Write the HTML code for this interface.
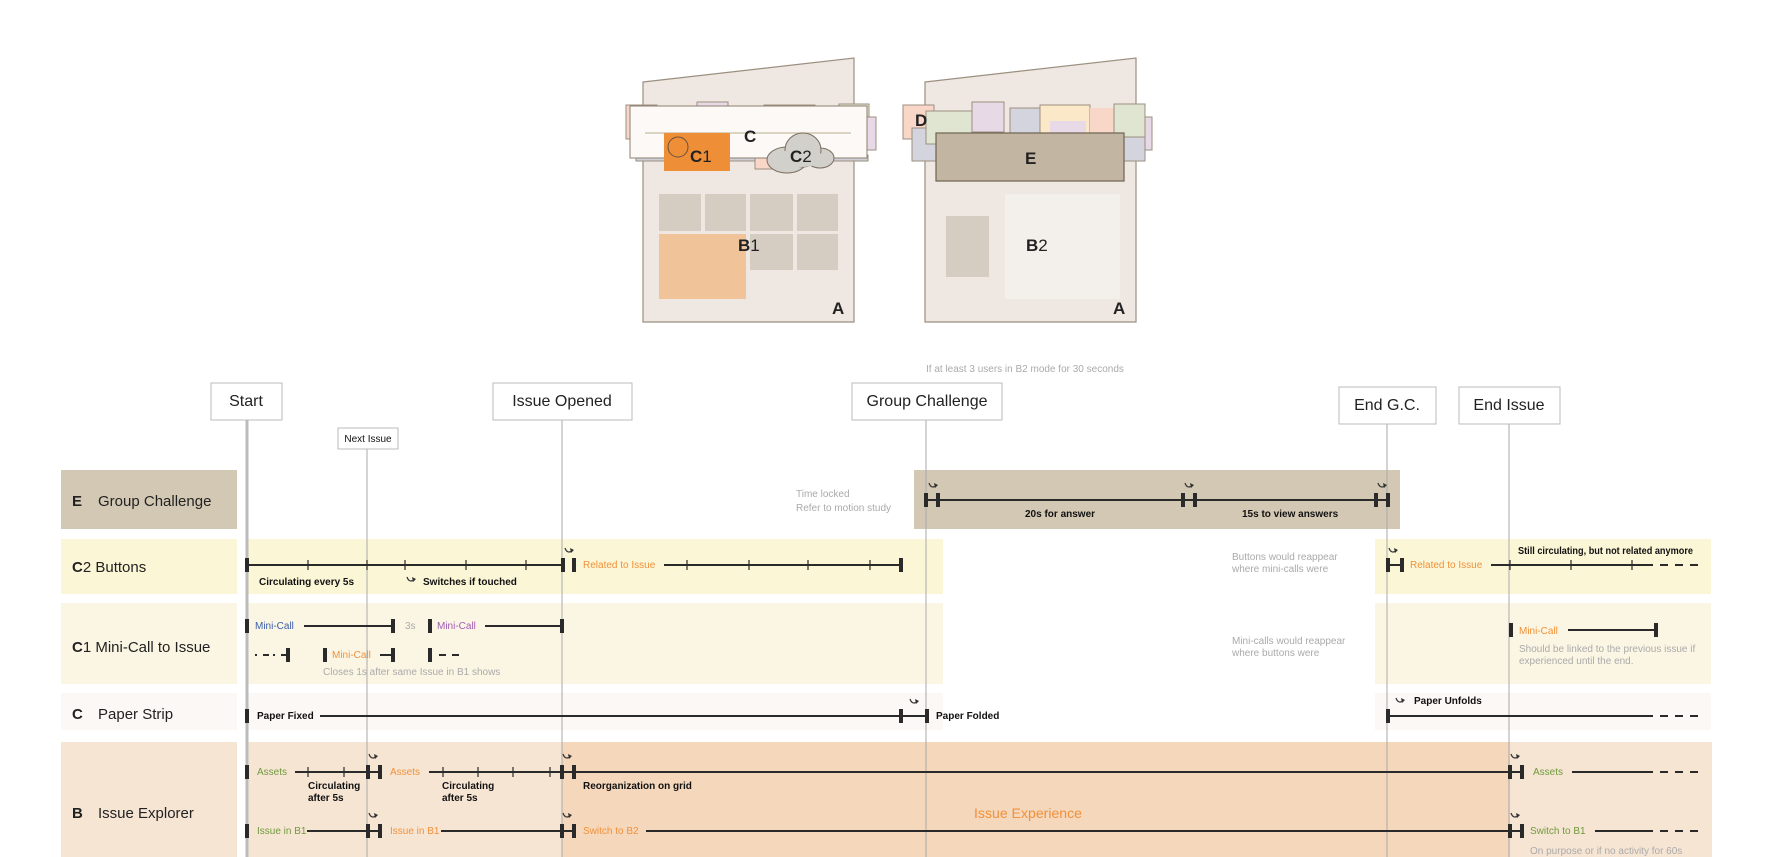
<!DOCTYPE html>
<html><head><meta charset="utf-8"><style>
html,body{margin:0;padding:0;background:#fff;}
svg{display:block;}
text{font-family:"Liberation Sans",sans-serif;}
.s{font-size:10px;fill:#111;}
.g{font-size:10px;fill:#aaa;}
.o{font-size:10px;fill:#f0913a;}
.gr{font-size:10px;fill:#6f9a3c;}
.bl{font-size:10px;fill:#3a5ea8;}
.pu{font-size:10px;fill:#a05bb5;}
.lbl{font-size:15px;fill:#222;}
.box{fill:#fff;stroke:#bbb;stroke-width:1;}
.bt{font-size:16px;fill:#222;text-anchor:middle;}
.ln{stroke:#2a2a2a;stroke-width:2;}
.tk{stroke:#2a2a2a;stroke-width:1.2;}
.br{stroke:#2a2a2a;stroke-width:4;}
.dash{stroke:#2a2a2a;stroke-width:2;stroke-dasharray:8,7;}
.vl{stroke:#aaa;stroke-width:1;}
.ar{fill:none;stroke:#333;stroke-width:1.2;}
.dev{fill:#efe7e1;stroke:#9c8f80;stroke-width:1.2;}
.big{font-size:17px;font-weight:bold;fill:#222;}
</style></head><body>
<svg width="1778" height="857" viewBox="0 0 1778 857" xmlns="http://www.w3.org/2000/svg">
<defs>
<g id="arw"><path class="ar" d="M-4,-3 Q-2,3 3,0"/><path d="M1,-3 L5,-1 L2,2 Z" fill="#333"/></g>
</defs>

<polygon class="dev" points="643,82 854,58 854,322 643,322"/>
<rect x="626" y="105" width="31" height="34" fill="#f8d7c9" stroke="#9c8f80"/>
<rect x="697" y="102" width="31" height="10" fill="#e7d9e6" stroke="#9c8f80"/>
<rect x="764" y="105" width="51" height="10" fill="#fbe8c8" stroke="#9c8f80"/>
<rect x="839" y="104" width="30" height="40" fill="#dfe5d0" stroke="#9c8f80"/>
<rect x="866" y="117" width="10" height="33" fill="#e7d9e6" stroke="#9c8f80"/>
<rect x="636" y="155" width="232" height="6" fill="#d0d0d8" stroke="#9c8f80"/>
<rect x="755" y="155" width="20" height="14" fill="#f8d7c9" stroke="#9c8f80"/>
<rect x="630" y="106" width="237" height="52" fill="#fcf9f6" stroke="#8d8070"/>
<line x1="645" y1="133" x2="851" y2="133" stroke="#d2c7b2" stroke-width="1.5"/>
<rect x="664" y="133" width="66" height="38" fill="#ee8f37"/>
<circle cx="678" cy="147" r="10" fill="none" stroke="#6a5040" stroke-width="1"/>
<text x="690" y="162" class="big">C<tspan font-weight="normal">1</tspan></text>
<text x="744" y="142" class="big">C</text>
<g fill="#d2d0ca" stroke="#7c6e60" stroke-width="1">
<ellipse cx="787" cy="160" rx="20" ry="13"/>
<ellipse cx="820" cy="158" rx="14" ry="10"/>
<ellipse cx="803" cy="150" rx="18" ry="17"/>
</g>
<g fill="#d2d0ca"><ellipse cx="800" cy="158" rx="24" ry="9"/></g>
<text x="790" y="162" class="big">C<tspan font-weight="normal">2</tspan></text>
<g fill="#d5ccc2">
<rect x="659" y="194" width="42" height="37"/><rect x="705" y="194" width="41" height="37"/>
<rect x="750" y="194" width="43" height="37"/><rect x="797" y="194" width="41" height="37"/>
<rect x="750" y="234" width="43" height="36"/><rect x="797" y="234" width="41" height="36"/>
</g>
<rect x="659" y="234" width="87" height="65" fill="#f0c398"/>
<text x="738" y="251" class="big">B<tspan font-weight="normal">1</tspan></text>
<text x="832" y="314" class="big">A</text>

<polygon class="dev" points="925,82 1136,58 1136,322 925,322"/>
<rect x="903" y="105" width="31" height="34" fill="#f8d7c9" stroke="#9c8f80"/>
<rect x="912" y="128" width="25" height="33" fill="#d4d4de" stroke="#9c8f80"/>
<rect x="926" y="111" width="46" height="33" fill="#dfe5d0" stroke="#9c8f80"/>
<rect x="972" y="102" width="32" height="30" fill="#e7d9e6" stroke="#9c8f80"/>
<rect x="1010" y="108" width="32" height="26" fill="#d4d4de" stroke="#9c8f80"/>
<rect x="1040" y="105" width="50" height="29" fill="#fbe8c8" stroke="#9c8f80"/>
<rect x="1050" y="121" width="36" height="13" fill="#e7d9e6"/>
<rect x="1090" y="108" width="24" height="26" fill="#f8d7c9"/>
<rect x="1145" y="117" width="7" height="33" fill="#e7d9e6" stroke="#9c8f80"/>
<rect x="1124" y="137" width="21" height="24" fill="#d4d4de" stroke="#9c8f80"/>
<rect x="1114" y="104" width="31" height="33" fill="#dfe5d0" stroke="#9c8f80"/>
<text x="915" y="126" class="big">D</text>
<rect x="936" y="133" width="188" height="48" fill="#c2b6a2" stroke="#6e6252" stroke-width="1.2"/>
<text x="1025" y="164" class="big">E</text>
<rect x="1005" y="194" width="115" height="105" fill="#f3efea"/>
<rect x="946" y="216" width="43" height="61" fill="#d5ccc2"/>
<text x="1026" y="251" class="big">B<tspan font-weight="normal">2</tspan></text>
<text x="1113" y="314" class="big">A</text>

<rect x="61" y="470" width="176" height="59" fill="#d3c8b3"/>
<rect x="61" y="539" width="176" height="55" fill="#fbf6d6"/>
<rect x="61" y="603" width="176" height="81" fill="#fbf6e4"/>
<rect x="61" y="693" width="176" height="37" fill="#fcf8f5"/>
<rect x="61" y="742" width="176" height="115" fill="#f7e5d4"/>

<rect x="914" y="470" width="486" height="59" fill="#d3c8b3"/>
<rect x="247" y="539" width="696" height="55" fill="#fbf6d6"/>
<rect x="1375" y="539" width="336" height="55" fill="#fbf6d6"/>
<rect x="247" y="603" width="696" height="81" fill="#fbf6e4"/>
<rect x="1375" y="603" width="336" height="81" fill="#fbf6e4"/>
<rect x="247" y="693" width="696" height="37" fill="#fcf8f5"/>
<rect x="1375" y="693" width="336" height="37" fill="#fcf8f5"/>
<rect x="247" y="742" width="1465" height="115" fill="#f7e5d4"/>
<rect x="562" y="742" width="948" height="115" fill="#f5d7bc"/>

<text x="72" y="506" class="lbl"><tspan font-weight="bold">E</tspan><tspan x="98">Group Challenge</tspan></text>
<text x="72" y="572" class="lbl"><tspan font-weight="bold">C</tspan>2 Buttons</text>
<text x="72" y="652" class="lbl"><tspan font-weight="bold">C</tspan>1 Mini-Call to Issue</text>
<text x="72" y="719" class="lbl"><tspan font-weight="bold">C</tspan><tspan x="98">Paper Strip</tspan></text>
<text x="72" y="818" class="lbl"><tspan font-weight="bold">B</tspan><tspan x="98">Issue Explorer</tspan></text>

<line x1="247" y1="420" x2="247" y2="857" stroke="#bbb" stroke-width="3"/>
<line class="vl" x1="367" y1="449" x2="367" y2="857"/>
<line class="vl" x1="562" y1="420" x2="562" y2="857"/>
<line class="vl" x1="926" y1="420" x2="926" y2="857"/>
<line class="vl" x1="1387" y1="424" x2="1387" y2="857"/>
<line class="vl" x1="1509" y1="424" x2="1509" y2="857"/>

<rect class="box" x="211" y="383" width="71" height="37"/><text x="246" y="406" class="bt">Start</text>
<rect class="box" x="493" y="383" width="139" height="37"/><text x="562" y="406" class="bt">Issue Opened</text>
<rect class="box" x="852" y="383" width="150" height="37"/><text x="927" y="406" class="bt">Group Challenge</text>
<rect class="box" x="1339" y="387" width="97" height="37"/><text x="1387" y="410" class="bt">End G.C.</text>
<rect class="box" x="1459" y="387" width="101" height="37"/><text x="1509" y="410" class="bt">End Issue</text>
<rect class="box" x="338" y="428" width="60" height="21"/><text x="368" y="442" class="s" text-anchor="middle" font-size="9">Next Issue</text>
<text x="926" y="372" class="g" font-size="9">If at least 3 users in B2 mode for 30 seconds</text>

<text x="796" y="497" class="g" font-size="9">Time locked</text>
<text x="796" y="511" class="g" font-size="9">Refer to motion study</text>
<line class="ln" x1="926" y1="500" x2="1388" y2="500"/>
<g class="br"><line x1="926" y1="493" x2="926" y2="507"/><line x1="938" y1="493" x2="938" y2="507"/><line x1="1183" y1="493" x2="1183" y2="507"/><line x1="1195" y1="493" x2="1195" y2="507"/><line x1="1376" y1="493" x2="1376" y2="507"/><line x1="1388" y1="493" x2="1388" y2="507"/></g>
<use href="#arw" x="933" y="486"/><use href="#arw" x="1189" y="486"/><use href="#arw" x="1382" y="486"/>
<text x="1025" y="517" class="s" font-weight="bold" font-size="9">20s for answer</text>
<text x="1242" y="517" class="s" font-weight="bold" font-size="9">15s to view answers</text>

<line class="ln" x1="247" y1="565" x2="562" y2="565"/>
<line class="ln" x1="664" y1="565" x2="901" y2="565"/>
<g class="tk"><line x1="308" y1="560" x2="308" y2="570"/><line x1="367" y1="560" x2="367" y2="570"/><line x1="405" y1="560" x2="405" y2="570"/><line x1="466" y1="560" x2="466" y2="570"/><line x1="526" y1="560" x2="526" y2="570"/>
<line x1="687" y1="560" x2="687" y2="570"/><line x1="749" y1="560" x2="749" y2="570"/><line x1="808" y1="560" x2="808" y2="570"/><line x1="870" y1="560" x2="870" y2="570"/></g>
<g class="br"><line x1="247" y1="558" x2="247" y2="572"/><line x1="563" y1="558" x2="563" y2="572"/><line x1="574" y1="558" x2="574" y2="572"/><line x1="901" y1="558" x2="901" y2="572"/></g>
<use href="#arw" x="569" y="551"/>
<text x="583" y="568" class="o" font-size="9">Related to Issue</text>
<text x="259" y="585" class="s" font-weight="bold" font-size="9">Circulating every 5s</text>
<use href="#arw" x="411" y="580"/>
<text x="423" y="585" class="s" font-weight="bold" font-size="9">Switches if touched</text>
<text x="1232" y="560" class="g" font-size="9">Buttons would reappear</text>
<text x="1232" y="572" class="g" font-size="9">where mini-calls were</text>
<g class="br"><line x1="1388" y1="558" x2="1388" y2="572"/><line x1="1402" y1="558" x2="1402" y2="572"/></g>
<line class="ln" x1="1388" y1="565" x2="1402" y2="565"/>
<use href="#arw" x="1393" y="551"/>
<text x="1410" y="568" class="o" font-size="9">Related to Issue</text>
<line class="ln" x1="1491" y1="565" x2="1653" y2="565"/>
<line class="dash" x1="1660" y1="565" x2="1700" y2="565"/>
<g class="tk"><line x1="1510" y1="560" x2="1510" y2="570"/><line x1="1571" y1="560" x2="1571" y2="570"/><line x1="1632" y1="560" x2="1632" y2="570"/></g>
<text x="1518" y="554" class="s" font-weight="bold" font-size="9" textLength="175" lengthAdjust="spacingAndGlyphs">Still circulating, but not related anymore</text>

<line class="br" x1="247" y1="619" x2="247" y2="633"/>
<text x="255" y="629" class="bl" font-size="9">Mini-Call</text>
<line class="ln" x1="304" y1="626" x2="393" y2="626"/><line class="br" x1="393" y1="619" x2="393" y2="633"/>
<text x="405" y="629" class="g" font-size="9">3s</text>
<line class="br" x1="430" y1="619" x2="430" y2="633"/>
<text x="437" y="629" class="pu" font-size="9">Mini-Call</text>
<line class="ln" x1="485" y1="626" x2="562" y2="626"/><line class="br" x1="562" y1="619" x2="562" y2="633"/>
<line stroke="#2a2a2a" stroke-width="2" stroke-dasharray="2,6,6,4" x1="255" y1="655" x2="287" y2="655"/>
<line class="br" x1="288" y1="648" x2="288" y2="662"/>
<line class="br" x1="325" y1="648" x2="325" y2="662"/>
<text x="332" y="658" class="o" font-size="9">Mini-Call</text>
<line class="ln" x1="380" y1="655" x2="393" y2="655"/><line class="br" x1="393" y1="648" x2="393" y2="662"/>
<line class="br" x1="430" y1="648" x2="430" y2="662"/>
<line stroke="#2a2a2a" stroke-width="2" stroke-dasharray="7,6" x1="439" y1="655" x2="464" y2="655"/>
<text x="323" y="675" class="g" font-size="9">Closes 1s after same Issue in B1 shows</text>
<text x="1232" y="644" class="g" font-size="9">Mini-calls would reappear</text>
<text x="1232" y="656" class="g" font-size="9">where buttons were</text>
<line class="br" x1="1511" y1="623" x2="1511" y2="637"/>
<text x="1519" y="634" class="o" font-size="9">Mini-Call</text>
<line class="ln" x1="1568" y1="630" x2="1656" y2="630"/><line class="br" x1="1656" y1="623" x2="1656" y2="637"/>
<text x="1519" y="652" class="g" font-size="9">Should be linked to the previous issue if</text>
<text x="1519" y="664" class="g" font-size="9">experienced until the end.</text>

<line class="br" x1="247" y1="709" x2="247" y2="723"/>
<text x="257" y="719" class="s" font-weight="bold" font-size="9">Paper Fixed</text>
<line class="ln" x1="320" y1="716" x2="927" y2="716"/>
<g class="br"><line x1="901" y1="709" x2="901" y2="723"/><line x1="927" y1="709" x2="927" y2="723"/></g>
<use href="#arw" x="914" y="702"/>
<text x="936" y="719" class="s" font-weight="bold" font-size="9">Paper Folded</text>
<line class="br" x1="1388" y1="709" x2="1388" y2="723"/>
<line class="ln" x1="1388" y1="716" x2="1653" y2="716"/>
<line class="dash" x1="1660" y1="716" x2="1700" y2="716"/>
<use href="#arw" x="1400" y="701"/>
<text x="1414" y="704" class="s" font-weight="bold" font-size="9">Paper Unfolds</text>

<line class="br" x1="247" y1="765" x2="247" y2="779"/>
<text x="257" y="775" class="gr" font-size="9">Assets</text>
<line class="ln" x1="295" y1="772" x2="380" y2="772"/>
<line class="ln" x1="429" y1="772" x2="1522" y2="772"/>
<g class="tk"><line x1="308" y1="767" x2="308" y2="777"/><line x1="344" y1="767" x2="344" y2="777"/><line x1="443" y1="767" x2="443" y2="777"/><line x1="478" y1="767" x2="478" y2="777"/><line x1="513" y1="767" x2="513" y2="777"/><line x1="550" y1="767" x2="550" y2="777"/></g>
<g class="br"><line x1="368" y1="765" x2="368" y2="779"/><line x1="380" y1="765" x2="380" y2="779"/><line x1="562" y1="765" x2="562" y2="779"/><line x1="574" y1="765" x2="574" y2="779"/><line x1="1510" y1="765" x2="1510" y2="779"/><line x1="1522" y1="765" x2="1522" y2="779"/></g>
<use href="#arw" x="373" y="757"/><use href="#arw" x="567" y="757"/><use href="#arw" x="1515" y="757"/>
<text x="390" y="775" class="o" font-size="9">Assets</text>
<text x="308" y="789" class="s" font-weight="bold" font-size="9">Circulating</text>
<text x="308" y="801" class="s" font-weight="bold" font-size="9">after 5s</text>
<text x="442" y="789" class="s" font-weight="bold" font-size="9">Circulating</text>
<text x="442" y="801" class="s" font-weight="bold" font-size="9">after 5s</text>
<text x="583" y="789" class="s" font-weight="bold" font-size="9">Reorganization on grid</text>
<text x="1533" y="775" class="gr" font-size="9">Assets</text>
<line class="ln" x1="1572" y1="772" x2="1653" y2="772"/>
<line class="dash" x1="1660" y1="772" x2="1700" y2="772"/>

<line class="br" x1="247" y1="824" x2="247" y2="838"/>
<text x="257" y="834" class="gr" font-size="9">Issue in B1</text>
<line class="ln" x1="307" y1="831" x2="380" y2="831"/>
<line class="ln" x1="441" y1="831" x2="574" y2="831"/>
<line class="ln" x1="646" y1="831" x2="1522" y2="831"/>
<g class="br"><line x1="368" y1="824" x2="368" y2="838"/><line x1="380" y1="824" x2="380" y2="838"/><line x1="562" y1="824" x2="562" y2="838"/><line x1="574" y1="824" x2="574" y2="838"/><line x1="1510" y1="824" x2="1510" y2="838"/><line x1="1522" y1="824" x2="1522" y2="838"/></g>
<use href="#arw" x="373" y="816"/><use href="#arw" x="567" y="816"/><use href="#arw" x="1515" y="816"/>
<text x="390" y="834" class="o" font-size="9">Issue in B1</text>
<text x="583" y="834" class="o" font-size="9">Switch to B2</text>
<text x="1530" y="834" class="gr" font-size="9">Switch to B1</text>
<line class="ln" x1="1595" y1="831" x2="1653" y2="831"/>
<line class="dash" x1="1660" y1="831" x2="1700" y2="831"/>
<text x="1530" y="854" class="g" font-size="9">On purpose or if no activity for 60s</text>
<text x="974" y="818" font-size="14" fill="#f0913a" textLength="108" lengthAdjust="spacingAndGlyphs">Issue Experience</text>
</svg>
</body></html>
